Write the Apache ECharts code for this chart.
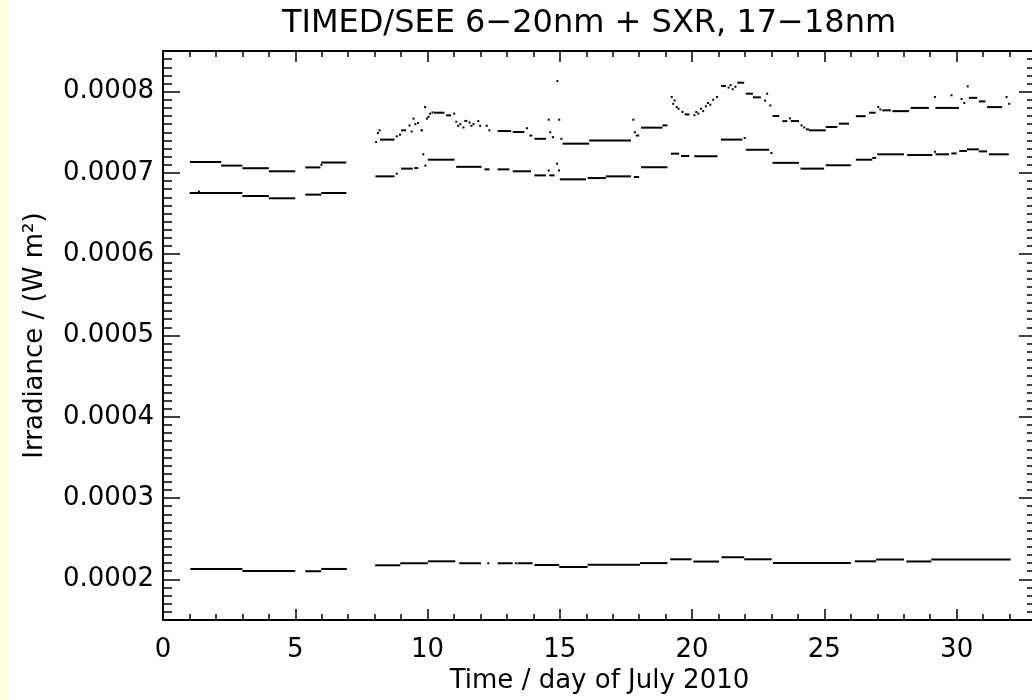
<!DOCTYPE html>
<html><head><meta charset="utf-8">
<script src="https://cdn.jsdelivr.net/npm/echarts@6/dist/echarts.min.js"></script>
<style>
html,body{margin:0;padding:0;background:#fff;overflow:hidden;width:1032px;height:700px}
#c{position:absolute;left:0;top:0;width:1040px;height:700px}
#strip{position:absolute;left:0;top:0;width:8px;height:700px;background:#FFFFE4;z-index:2}
</style></head><body>
<div id="c"></div><div id="strip"></div>
<script>
const titleText = 'TIMED/SEE 6\u221220nm + SXR, 17\u221218nm';
const xAxisName = 'Time / day of July 2010';
const yAxisName = 'Irradiance / (W m\u00B2)';
const xRange = [0, 33];
const yRange = [0.00015, 0.00085];
const xTickStep = 5;
const yTickStep = 0.0001;

// runs: [start day, end day, irradiance]
const topRuns = [
  [1.02, 2.2, 0.0007134], [2.2, 3.0, 0.000709], [3.0, 4.0, 0.0007058], [4.0, 5.0, 0.000702],
  [5.38, 5.95, 0.0007068], [5.95, 5.98, 0.00071], [5.98, 6.93, 0.0007128],
  [8.02, 8.04, 0.000738], [8.09, 8.11, 0.000749], [8.15, 8.17, 0.0007524], [8.2, 8.75, 0.000741],
  [8.8, 8.82, 0.000745], [8.92, 8.94, 0.000747], [9.0, 9.19, 0.0007524], [9.28, 9.3, 0.0007584],
  [9.36, 9.38, 0.000751], [9.43, 9.45, 0.0007668], [9.5, 9.52, 0.00076], [9.6, 9.65, 0.0007614],
  [9.73, 9.83, 0.0007524], [9.87, 9.89, 0.000781], [9.94, 9.96, 0.0007668], [10.0, 10.02, 0.000769],
  [10.06, 10.08, 0.0007729], [10.15, 10.17, 0.0007745], [10.24, 10.64, 0.0007741], [10.7, 10.89, 0.0007708],
  [10.97, 10.99, 0.000773], [11.05, 11.07, 0.000763], [11.12, 11.14, 0.000758], [11.2, 11.27, 0.00076],
  [11.32, 11.34, 0.000756], [11.39, 11.5, 0.000764], [11.55, 11.57, 0.000762], [11.62, 11.64, 0.000758],
  [11.7, 11.72, 0.00076], [11.88, 11.9, 0.0007638], [11.95, 11.97, 0.000758], [12.2, 12.22, 0.000758],
  [12.3, 12.34, 0.0007524], [12.65, 13.16, 0.0007515], [13.22, 13.66, 0.0007503], [13.72, 13.74, 0.000755],
  [13.85, 13.96, 0.000746], [14.04, 14.48, 0.000742], [14.54, 14.56, 0.0007655], [14.6, 14.62, 0.00075],
  [14.7, 14.78, 0.000744], [14.87, 14.89, 0.000813], [14.94, 14.96, 0.0007655], [15.02, 15.04, 0.000742],
  [15.1, 16.11, 0.000736], [16.11, 17.69, 0.00074], [17.74, 17.76, 0.0007655], [17.8, 17.82, 0.00075],
  [17.87, 18.0, 0.000746], [18.07, 18.88, 0.0007557], [18.88, 19.07, 0.0007585], [19.19, 19.21, 0.0007934],
  [19.25, 19.27, 0.000785], [19.3, 19.32, 0.000789], [19.38, 19.4, 0.000781], [19.45, 19.5, 0.000779],
  [19.6, 19.62, 0.000775], [19.72, 19.9, 0.000772], [20.05, 20.07, 0.000771], [20.12, 20.14, 0.000775],
  [20.2, 20.22, 0.000773], [20.3, 20.32, 0.000779], [20.38, 20.4, 0.000776], [20.48, 20.5, 0.000782],
  [20.56, 20.58, 0.000786], [20.65, 20.67, 0.000784], [20.76, 20.78, 0.00079], [20.9, 20.92, 0.0007934],
  [21.09, 21.28, 0.000807], [21.34, 21.36, 0.000805], [21.42, 21.44, 0.000808], [21.5, 21.52, 0.000803],
  [21.6, 21.62, 0.000806], [21.71, 21.97, 0.000811], [22.03, 22.3, 0.0007975], [22.3, 22.6, 0.000793],
  [22.72, 22.74, 0.000789], [22.8, 22.82, 0.0007975], [22.92, 22.94, 0.000783], [23.04, 23.29, 0.00077],
  [23.41, 23.6, 0.0007637], [23.66, 23.68, 0.000767], [23.73, 24.04, 0.0007638], [24.1, 24.12, 0.0007585],
  [24.2, 24.22, 0.000756], [24.3, 24.42, 0.0007536], [24.42, 25.05, 0.0007524], [25.05, 25.49, 0.0007565],
  [25.55, 25.93, 0.0007606], [26.19, 26.56, 0.0007698], [26.69, 26.94, 0.0007741], [27.0, 27.02, 0.000781],
  [27.08, 27.1, 0.000778], [27.19, 27.51, 0.000777], [27.57, 28.2, 0.000776], [28.26, 28.95, 0.00078],
  [29.14, 29.16, 0.0007934], [29.2, 30.09, 0.00078], [29.77, 29.79, 0.0007955], [30.15, 30.17, 0.000791],
  [30.25, 30.27, 0.000786], [30.38, 30.4, 0.0008065], [30.46, 30.78, 0.0007924], [30.84, 31.09, 0.000788],
  [31.15, 31.72, 0.000781], [31.85, 31.87, 0.0007934], [31.95, 31.97, 0.000785]
];

const middleRuns = [
  [1.01, 3.0, 0.0006753], [1.32, 1.36, 0.000677], [3.0, 4.0, 0.0006716], [4.0, 5.0, 0.0006688],
  [5.38, 5.98, 0.0006733], [5.98, 6.93, 0.0006753],
  [8.03, 8.75, 0.0006958], [8.8, 8.83, 0.000699], [9.0, 9.44, 0.0007053], [9.5, 9.65, 0.000706],
  [9.8, 9.84, 0.0007229], [9.88, 9.95, 0.000709], [10.01, 11.02, 0.0007163], [11.08, 12.04, 0.0007075],
  [12.15, 12.34, 0.0007044], [12.65, 13.09, 0.0007044], [13.22, 13.91, 0.000702], [14.04, 14.48, 0.000697],
  [14.54, 14.56, 0.000703], [14.6, 14.8, 0.000697], [14.86, 14.89, 0.0007114], [14.93, 14.96, 0.000703],
  [15.0, 15.99, 0.0006921], [16.05, 16.74, 0.0006937], [16.74, 17.69, 0.0006958], [17.8, 18.0, 0.000695],
  [18.07, 19.07, 0.000707], [19.2, 19.51, 0.0007237], [19.58, 19.89, 0.0007208], [20.08, 20.96, 0.0007205],
  [21.09, 21.9, 0.000741], [21.95, 21.98, 0.000743], [22.03, 22.91, 0.0007285], [22.96, 22.99, 0.0007245],
  [23.04, 24.04, 0.0007124], [24.1, 24.99, 0.0007053], [25.05, 26.0, 0.0007094], [26.19, 26.81, 0.0007163],
  [26.81, 26.96, 0.0007185], [27.0, 28.01, 0.0007229], [28.13, 29.08, 0.000722], [29.14, 29.17, 0.000726],
  [29.2, 29.71, 0.0007229], [29.8, 30.0, 0.000724], [30.1, 30.39, 0.000727], [30.39, 30.84, 0.000729],
  [30.84, 31.15, 0.0007265], [31.22, 31.97, 0.0007229]
];

const bottomRuns = [
  [1.03, 3.0, 0.0002128], [3.0, 5.0, 0.0002103], [5.38, 5.98, 0.00021], [5.98, 6.95, 0.0002128],
  [8.02, 8.97, 0.0002173], [8.97, 10.01, 0.0002198], [10.01, 11.05, 0.0002222], [11.2, 12.02, 0.0002198],
  [12.26, 12.3, 0.0002198], [12.65, 13.22, 0.0002198], [13.3, 13.33, 0.0002198], [13.4, 13.97, 0.0002198],
  [14.04, 14.98, 0.0002177], [14.98, 16.05, 0.0002152], [16.05, 18.03, 0.000218], [18.03, 19.07, 0.00022],
  [19.17, 19.98, 0.0002247], [20.05, 21.02, 0.0002219], [21.11, 21.97, 0.0002272], [21.97, 23.01, 0.0002247],
  [23.06, 26.0, 0.00022], [26.15, 26.96, 0.0002222], [26.96, 28.01, 0.0002244], [28.1, 29.04, 0.000222],
  [29.04, 32.04, 0.0002244]
];

const FONT = "'DejaVu Sans ExtraLight', 'DejaVu Sans', sans-serif";
const INK = '#000';

function runRenderer(params, api) {
  const v = api.value(2);
  const a = api.coord([api.value(0), v]);
  const b = api.coord([api.value(1), v]);
  const w = Math.max(b[0] - a[0], 2);
  return {
    type: 'rect',
    shape: { x: a[0], y: a[1] - 1, width: w, height: 2 },
    style: { fill: INK }
  };
}

function xAxisCfg(pos, showLabels) {
  return {
    type: 'value', position: pos, min: xRange[0], max: xRange[1], interval: xTickStep,
    axisLine: { show: true, onZero: false, lineStyle: { color: INK, width: 2 } },
    axisTick: { show: true, inside: true, length: 11, lineStyle: { color: INK, width: 1.5 } },
    minorTick: { show: true, splitNumber: 5, length: 6, lineStyle: { color: INK, width: 1.5 } },
    splitLine: { show: false },
    axisLabel: { show: showLabels, showMaxLabel: false, margin: 17, color: INK, fontSize: 26, fontFamily: FONT,
      formatter: v => String(v) },
    name: showLabels ? xAxisName : '', nameLocation: 'middle', nameGap: 48,
    nameTextStyle: { color: INK, fontSize: 26, fontFamily: FONT }
  };
}
function yAxisCfg(pos, showLabels) {
  return {
    type: 'value', position: pos, min: yRange[0], max: yRange[1],
    minInterval: yTickStep, maxInterval: yTickStep,
    axisLine: { show: true, onZero: false, lineStyle: { color: INK, width: 2 } },
    axisTick: { show: true, inside: true, length: 17, lineStyle: { color: INK, width: 1.5 } },
    minorTick: { show: true, splitNumber: 10, length: 9, lineStyle: { color: INK, width: 1.5 } },
    splitLine: { show: false },
    axisLabel: { show: showLabels, showMinLabel: false, showMaxLabel: false, margin: 9, color: INK,
      fontSize: 26, fontFamily: FONT, formatter: v => v.toFixed(4) },
    name: showLabels ? yAxisName : '', nameLocation: 'middle', nameGap: 115,
    nameTextStyle: { color: INK, fontSize: 26, fontFamily: FONT }
  };
}

const chart = echarts.init(document.getElementById('c'), null, { renderer: 'canvas' });
chart.setOption({
  animation: false,
  backgroundColor: '#fff',
  title: { text: titleText, left: 584, top: 3, textAlign: 'center',
    textStyle: { color: INK, fontSize: 32, fontWeight: 'normal', fontFamily: FONT } },
  grid: { left: 163, right: 4, top: 51, bottom: 80 },
  xAxis: [xAxisCfg('bottom', true), xAxisCfg('top', false)],
  yAxis: [yAxisCfg('left', true), yAxisCfg('right', false)],
  series: [
    { type: 'custom', name: 'top', renderItem: runRenderer, data: topRuns, encode: { x: [0, 1], y: 2 }, clip: true },
    { type: 'custom', name: 'middle', renderItem: runRenderer, data: middleRuns, encode: { x: [0, 1], y: 2 }, clip: true },
    { type: 'custom', name: 'bottom', renderItem: runRenderer, data: bottomRuns, encode: { x: [0, 1], y: 2 }, clip: true }
  ]
});
</script>
</body></html>
